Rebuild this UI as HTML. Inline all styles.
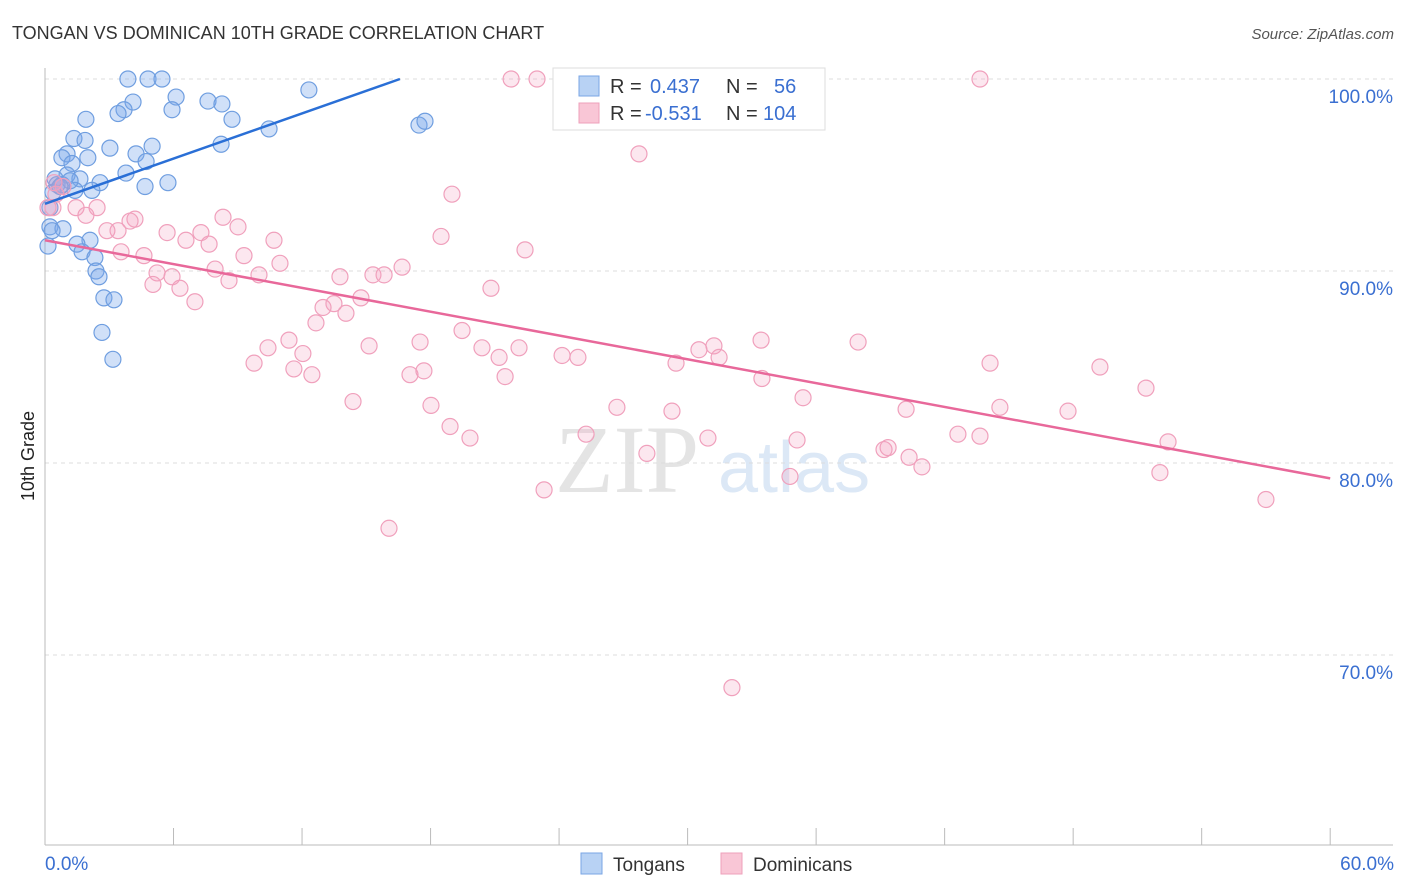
<!DOCTYPE html>
<html><head><meta charset="utf-8"><style>
body{margin:0;background:#fff;font-family:"Liberation Sans",sans-serif;}
svg{display:block}
</style></head><body>
<svg id="chart" width="1406" height="892">
<text x="12" y="39" font-size="18" fill="#333">TONGAN VS DOMINICAN 10TH GRADE CORRELATION CHART</text>
<text x="1394" y="39" font-size="15" fill="#555" font-style="italic" text-anchor="end">Source: ZipAtlas.com</text>
<g><text x="555" y="492" font-size="96" fill="#e4e4e4" font-family="Liberation Serif,serif">ZIP</text><text x="718" y="492" font-size="72" fill="#dce8f6">atlas</text></g>
<g id="grid"></g>
<g id="axes"></g>
<g id="blue"></g>
<g id="pink"></g>
<g id="trends"></g>
<g>
<rect x="553" y="68" width="272" height="62" fill="#fff" stroke="#ddd"/>
<rect x="579" y="76" width="20" height="20" fill="#b8d2f4" stroke="#7aa6e4"/>
<rect x="579" y="103" width="20" height="20" fill="#f9c6d6" stroke="#eea0bb"/>
<text x="610" y="93" font-size="20" fill="#333">R = </text><text x="650" y="93" font-size="20" fill="#3a6fd1">0.437</text>
<text x="726" y="93" font-size="20" fill="#333">N = </text><text x="774" y="93" font-size="20" fill="#3a6fd1">56</text>
<text x="610" y="120" font-size="20" fill="#333">R = </text><text x="645" y="120" font-size="20" fill="#3a6fd1">-0.531</text>
<text x="726" y="120" font-size="20" fill="#333">N = </text><text x="763" y="120" font-size="20" fill="#3a6fd1">104</text>
</g>
<g>
<rect x="581" y="853" width="21" height="21" fill="#b8d2f4" stroke="#7aa6e4"/>
<text x="613" y="871" font-size="19" fill="#333">Tongans</text>
<rect x="721" y="853" width="21" height="21" fill="#f9c6d6" stroke="#eea0bb"/>
<text x="753" y="871" font-size="19" fill="#333">Dominicans</text>
</g>
<text transform="translate(34,456) rotate(-90)" font-size="18" fill="#222" text-anchor="middle">10th Grade</text>
</svg>
<script>
const yTicks=[100,90,80,70];
const yTickLabels=["100.0%","90.0%","80.0%","70.0%"];
const xTickLabels=["0.0%","60.0%"];
const blueX=[3.87,4.81,5.46,12.32,6.12,7.61,8.26,4.11,3.69,3.41,5.93,8.73,1.91,10.46,17.46,17.74,1.35,1.87,5.0,8.22,3.03,1.03,4.25,0.79,2.0,1.26,4.72,3.78,1.03,1.63,2.57,0.56,5.74,4.67,1.4,2.19,0.37,0.23,0.23,0.84,0.33,2.1,1.49,1.73,2.33,2.38,2.52,0.14,2.75,3.22,2.66,3.17,0.79,1.17,0.47,0.7];
const blueY=[100,100,100,99.43,99.06,98.85,98.7,98.8,98.4,98.2,98.4,97.9,97.9,97.4,97.6,97.8,96.9,96.8,96.5,96.6,96.4,96.1,96.1,95.9,95.9,95.6,95.7,95.1,95.0,94.8,94.6,94.5,94.6,94.4,94.2,94.2,94.1,93.3,92.3,92.2,92.1,91.6,91.4,91.0,90.7,90.0,89.7,91.3,88.6,88.5,86.8,85.4,94.5,94.7,94.8,94.4];
const pinkX=[21.76,22.97,32.49,43.65,27.73,19.0,0.42,0.51,0.84,0.37,1.45,2.43,1.91,4.2,3.97,8.31,9.01,2.89,3.41,5.7,6.58,7.28,7.66,10.69,18.49,22.41,3.55,4.62,9.29,10.97,5.23,5.93,7.94,8.59,9.99,13.77,15.31,15.83,16.67,5.04,6.3,7.0,20.82,14.75,13.49,12.98,14.05,12.65,19.47,11.39,10.41,15.13,17.51,20.4,22.13,21.2,24.14,24.88,9.76,12.04,11.62,12.46,17.04,17.69,21.48,29.46,30.53,31.23,31.47,33.43,37.96,33.47,44.12,49.25,51.4,14.38,18.02,35.39,26.7,29.27,40.2,44.58,47.76,18.91,19.84,25.26,30.95,35.11,39.17,39.36,42.62,43.65,52.43,28.1,40.34,40.94,34.78,52.05,23.3,57.0,16.06,32.07,0.14];
const pinkY=[100,100,100,100,96.1,94.0,94.6,94.0,94.4,93.3,93.3,93.3,92.9,92.7,92.6,92.8,92.3,92.1,92.1,92.0,91.6,92.0,91.4,91.6,91.8,91.1,91.0,90.8,90.8,90.4,89.9,89.7,90.1,89.5,89.8,89.7,89.8,89.8,90.2,89.3,89.1,88.4,89.1,88.6,88.3,88.1,87.8,87.3,86.9,86.4,86.0,86.1,86.3,86.0,86.0,85.5,85.6,85.5,85.2,85.7,84.9,84.6,84.6,84.8,84.5,85.2,85.9,86.1,85.5,86.4,86.3,84.4,85.2,85.0,83.9,83.2,83.0,83.4,82.9,82.7,82.8,82.9,82.7,81.9,81.3,81.5,81.3,81.2,80.7,80.8,81.5,81.4,81.1,80.5,80.3,79.8,79.3,79.5,78.6,78.1,76.6,68.3,93.3];
const blueTrend=[[0,93.5],[16.57,100]];
const pinkTrend=[[0,91.6],[60,79.2]];
const NS="http://www.w3.org/2000/svg";
const xs=v=>45+v*21.42, ys=v=>79+(100-v)*19.2;
function mk(tag,attrs,parent){const e=document.createElementNS(NS,tag);for(const k in attrs)e.setAttribute(k,attrs[k]);parent.appendChild(e);return e;}
const grid=document.getElementById('grid'),axes=document.getElementById('axes');
yTicks.forEach((t,i)=>{
 const l=mk('line',{x1:45,x2:1393,y1:ys(t),y2:ys(t),stroke:'#ddd','stroke-dasharray':'4,4'},grid);
 
 
 const tx=mk('text',{x:1393,y:ys(t)+24,'font-size':19,fill:'#3a6fd1','text-anchor':'end'},axes);
 tx.textContent=yTickLabels[i];
 
 
});
mk('line',{x1:45,x2:45,y1:68,y2:845,stroke:'#bbb'},axes);
mk('line',{x1:45,x2:1393,y1:845,y2:845,stroke:'#bbb'},axes);
for(let i=0;i<=10;i++){const x=xs(i*6);mk('line',{x1:x,x2:x,y1:828,y2:845,stroke:'#bbb'},axes);}
const xl0=mk('text',{x:45,y:870,'font-size':19,fill:'#3a6fd1'},axes);xl0.textContent=xTickLabels[0];


const xl1=mk('text',{x:1394,y:870,'font-size':19,fill:'#3a6fd1','text-anchor':'end'},axes);xl1.textContent=xTickLabels[1];


const bg=document.getElementById('blue'),pg=document.getElementById('pink');
blueX.forEach((v,i)=>{const c=mk('circle',{cx:xs(v),cy:ys(blueY[i]),r:8,fill:'rgba(120,165,235,0.35)',stroke:'#6f9ee0','stroke-width':1.2},bg);
 
 });
pinkX.forEach((v,i)=>{const c=mk('circle',{cx:xs(v),cy:ys(pinkY[i]),r:8,fill:'rgba(245,160,190,0.25)',stroke:'#f0a0bc','stroke-width':1.2},pg);
 
 });
const tg=document.getElementById('trends');
const bl=mk('line',{x1:xs(blueTrend[0][0]),y1:ys(blueTrend[0][1]),x2:xs(blueTrend[1][0]),y2:ys(blueTrend[1][1]),stroke:'#2a6fd6','stroke-width':2.5},tg);


const pl=mk('line',{x1:xs(pinkTrend[0][0]),y1:ys(pinkTrend[0][1]),x2:xs(pinkTrend[1][0]),y2:ys(pinkTrend[1][1]),stroke:'#e8689a','stroke-width':2.5},tg);


</script>
</body></html>
